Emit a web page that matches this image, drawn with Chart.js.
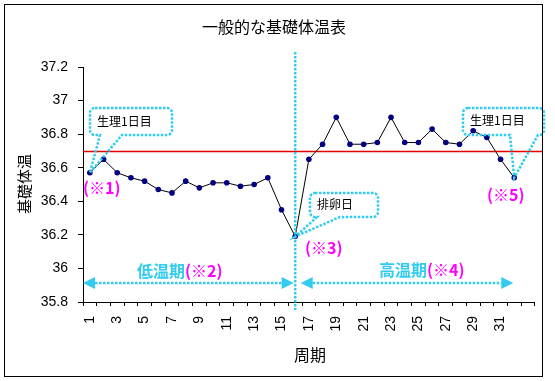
<!DOCTYPE html>
<html><head><meta charset="utf-8">
<script src="https://cdn.jsdelivr.net/npm/chart.js@4"></script>
<style>html,body{margin:0;padding:0;background:#fff;}</style>
</head><body>
<canvas id="c" width="555" height="381"></canvas>
<script>
// ---- data ----
const days = ['1','2','3','4','5','6','7','8','9','10','11','12','13','14','15','16','17','18','19','20','21','22','23','24','25','26','27','28','29','30','31','32',''];
const temps = [36.57,36.65,36.57,36.54,36.52,36.47,36.45,36.52,36.48,36.51,36.51,36.49,36.50,36.54,36.35,36.19,
               36.65,36.74,36.90,36.74,36.74,36.75,36.90,36.75,36.75,36.83,36.75,36.74,36.82,36.78,36.65,36.54];
const coverLine = 36.7;
const ovulationDay = 16;
const periodDays = [1, 32];
const chartTitle = '一般的な基礎体温表';
const yTitle = '基礎体温';
const xTitle = '周期';

const JP = '"Noto Sans CJK JP", sans-serif';
const NUM = '"Liberation Sans", Arial, sans-serif';
const CYAN = '#33CCEE';
const MAG = '#FF00FF';

function callout(ctx, x0, y0, x1, y1, r, bl, br, tx, ty) {
  ctx.beginPath();
  ctx.moveTo(x0 + r, y0);
  ctx.lineTo(x1 - r, y0);
  ctx.arcTo(x1, y0, x1, y0 + r, r);
  ctx.lineTo(x1, y1 - r);
  ctx.arcTo(x1, y1, x1 - r, y1, r);
  ctx.lineTo(br, y1);
  ctx.lineTo(tx, ty);
  ctx.lineTo(bl, y1);
  ctx.lineTo(x0 + r, y1);
  ctx.arcTo(x0, y1, x0, y1 - r, r);
  ctx.lineTo(x0, y0 + r);
  ctx.arcTo(x0, y0, x0 + r, y0, r);
  ctx.closePath();
  ctx.stroke();
}
function dblArrow(ctx, xa, xb, y) {
  const L = 12, H = 6;
  ctx.beginPath();
  ctx.moveTo(xa + L, y); ctx.lineTo(xb - L, y);
  ctx.stroke();
  ctx.save(); ctx.setLineDash([]);
  ctx.beginPath();
  ctx.moveTo(xa, y); ctx.lineTo(xa + L, y - H); ctx.lineTo(xa + L, y + H); ctx.closePath(); ctx.fill();
  ctx.beginPath();
  ctx.moveTo(xb, y); ctx.lineTo(xb - L, y - H); ctx.lineTo(xb - L, y + H); ctx.closePath(); ctx.fill();
  ctx.restore();
}
function text(ctx, s, x, y, font, color, align) {
  ctx.font = font; ctx.fillStyle = color; ctx.textAlign = align || 'left'; ctx.textBaseline = 'middle';
  ctx.fillText(s, x, y);
}

const deco = {
  id: 'deco',
  beforeDraw(chart) {
    const ctx = chart.ctx;
    ctx.save(); ctx.fillStyle = '#fff'; ctx.fillRect(0, 0, chart.width, chart.height); ctx.restore();
  },
  beforeDatasetsDraw(chart) {
    const ctx = chart.ctx, ys = chart.scales.y, a = chart.chartArea;
    const y = Math.round(ys.getPixelForValue(coverLine)) + 0.5;
    ctx.save();
    ctx.setLineDash([]);
    ctx.strokeStyle = 'rgb(230,0,0)'; ctx.lineWidth = 1.6;
    ctx.beginPath(); ctx.moveTo(a.left, y); ctx.lineTo(542, y); ctx.stroke();
    ctx.restore();
  },
  afterDatasetsDraw(chart) {
    const ctx = chart.ctx, xs = chart.scales.x, ys = chart.scales.y, a = chart.chartArea;
    const px = d => xs.getPixelForValue(d - 1);
    const py = d => ys.getPixelForValue(temps[d - 1]);
    ctx.save();
    ctx.strokeStyle = CYAN; ctx.fillStyle = CYAN;
    ctx.lineWidth = 2.5; ctx.setLineDash([2.5, 1.5]);
    const vx = px(ovulationDay);
    ctx.beginPath(); ctx.moveTo(vx, 52); ctx.lineTo(vx, 310); ctx.stroke();
    callout(ctx, 90, 108, 172, 135, 5, 100, 122, px(periodDays[0]), py(periodDays[0]));
    callout(ctx, 310, 193, 378, 217, 5, 317, 340, vx, py(ovulationDay));
    callout(ctx, 463, 108, 544, 135, 5, 510, 538, px(periodDays[1]), py(periodDays[1]));
    dblArrow(ctx, a.left, vx - 1.5, 283);
    dblArrow(ctx, vx + 5.5, px(periodDays[1]) - 1, 283);
    ctx.restore();
    ctx.save();
    text(ctx, '生理1日目', 97, 121, '12px ' + JP, '#000');
    text(ctx, '生理1日目', 470, 120, '12px ' + JP, '#000');
    text(ctx, '排卵日', 317, 204, '12px ' + JP, '#000');
    const B = 'bold 16px ' + JP;
    text(ctx, '(※1)', 83, 188, B, MAG);
    text(ctx, '(※3)', 305, 248, B, MAG);
    text(ctx, '(※5)', 487, 195, B, MAG);
    ctx.font = B;
    text(ctx, '低温期', 137, 271, B, CYAN);
    text(ctx, '(※2)', 137 + ctx.measureText('低温期').width, 271, B, MAG);
    ctx.font = B;
    text(ctx, '高温期', 379, 270, B, CYAN);
    text(ctx, '(※4)', 379 + ctx.measureText('高温期').width, 270, B, MAG);
    ctx.restore();
  },
  afterDraw(chart) {
    const ctx = chart.ctx;
    ctx.save();
    text(ctx, chartTitle, 274, 27, '16px ' + JP, '#000', 'center');
    text(ctx, xTitle, 310, 355, '16px ' + JP, '#000', 'center');
    ctx.translate(24, 184); ctx.rotate(-Math.PI / 2);
    text(ctx, yTitle, 0, 0, '15px ' + JP, '#000', 'center');
    ctx.restore();
    ctx.save();
    ctx.strokeStyle = '#000'; ctx.lineWidth = 1;
    ctx.strokeRect(4.5, 4.5, 538, 372);
    ctx.restore();
  }
};

new Chart(document.getElementById('c'), {
  type: 'line',
  data: {
    labels: days,
    datasets: [{
      data: temps,
      borderColor: '#000', borderWidth: 1,
      pointBackgroundColor: '#000080', pointBorderColor: '#000080',
      pointRadius: 2.8, pointBorderWidth: 0,
      tension: 0, fill: false
    }]
  },
  options: {
    responsive: false, devicePixelRatio: 1, animation: false,
    layout: { padding: { top: 67, right: 18, left: 0, bottom: 0 } },
    plugins: { legend: { display: false }, tooltip: { enabled: false }, title: { display: false } },
    scales: {
      x: {
        type: 'category', offset: true,
        grid: { offset: true, drawOnChartArea: false, drawTicks: true, tickLength: 4, color: '#000' },
        border: { color: '#000', width: 1 },
        ticks: {
          autoSkip: false, maxRotation: 90, minRotation: 90, padding: 10,
          font: { family: NUM, size: 14 }, color: '#000',
          callback: (v, i) => (i % 2 === 0 ? days[i] : '')
        },
        afterFit: s => { s.height = 79; }
      },
      y: {
        min: 35.8, max: 37.2,
        grid: { drawOnChartArea: false, drawTicks: true, tickLength: 5, color: '#000' },
        border: { color: '#000', width: 1 },
        ticks: {
          stepSize: 0.2, padding: 10,
          font: { family: NUM, size: 14 }, color: '#000',
          callback: v => String(Math.round(v * 10) / 10)
        },
        afterFit: s => { s.width = 83; }
      }
    }
  },
  plugins: [deco]
});
</script>
</body></html>
